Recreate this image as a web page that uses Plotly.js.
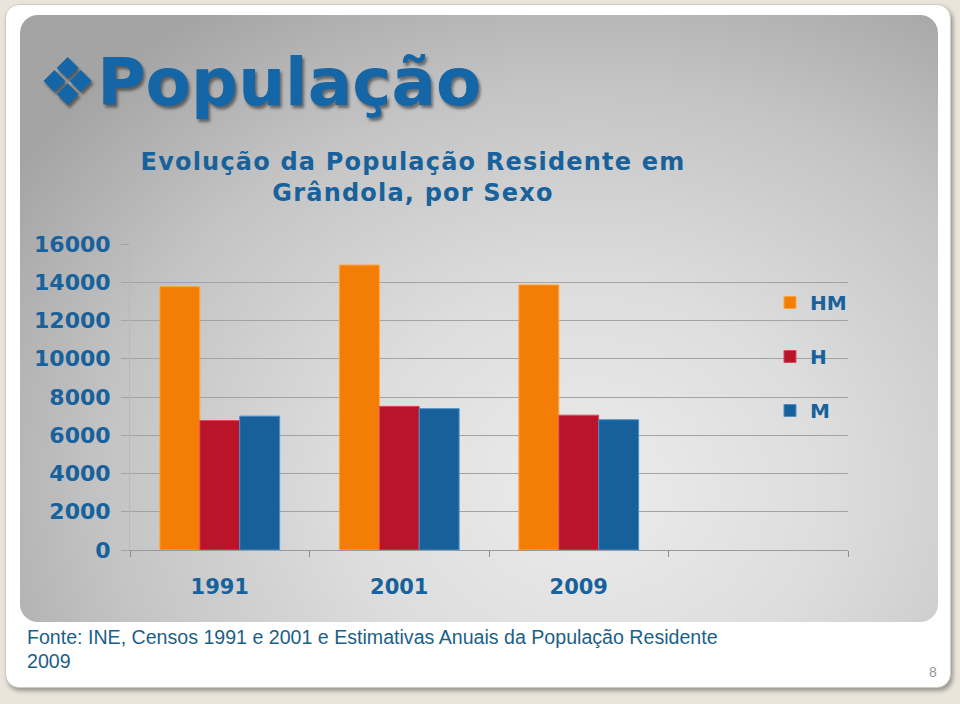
<!DOCTYPE html>
<html>
<head>
<meta charset="utf-8">
<script src="https://cdn.plot.ly/plotly-3.0.1.min.js"></script>
<style>
  html, body { margin:0; padding:0; width:960px; height:704px; overflow:hidden; background:#e9e5db; }
  #card { position:absolute; left:5px; top:4px; width:946px; height:684px; background:#ffffff;
          border-radius:14px; box-shadow: 2px 3px 4px rgba(0,0,0,0.35); border:1px solid #d0cdc4; box-sizing:border-box; }
  #panel { position:absolute; left:20px; top:15px; width:918px; height:607px; border-radius:18px;
           background: radial-gradient(ellipse 75% 95% at 62% 78%, #ececec 0%, #dddddd 35%, #c4c4c4 70%, #a4a4a4 100%); }
  #chart { position:absolute; left:0; top:0; width:960px; height:704px; }
  .gtitle { letter-spacing: 1.2px; }
</style>
</head>
<body>
<div id="card"></div>
<div id="panel"></div>
<div id="chart"></div>
<script>
// ---- data ----
const years = ["1991", "2001", "2009"];
const seriesNames = ["HM", "H", "M"];
const hmValues = [13770, 14900, 13860];
const hValues  = [6770, 7510, 7050];
const mValues  = [7000, 7390, 6810];
const yTicks = [0, 2000, 4000, 6000, 8000, 10000, 12000, 14000, 16000];

const mainTitle = "❖População";
const chartTitle = "Evolução da População Residente em<br>Grândola, por Sexo";
const sourceLine1 = "Fonte: INE, Censos 1991 e 2001 e Estimativas Anuais da População Residente";
const sourceLine2 = "2009";
const pageNumber = "8";

// ---- layout geometry ----
const W = 960, H = 704;
const M = { l: 130, r: 112, t: 244, b: 154 };
const pw = W - M.l - M.r, ph = H - M.t - M.b;
const px = x => (x - M.l) / pw;          // pixel -> paper x
const py = y => (H - M.b - y) / ph;      // pixel -> paper y

const blue = "#17629c";
const colors = ["#f47d06", "#b91429", "#17609a"];
const edge = ["#ffa53a", "#e04a5c", "#4a90c8"];

const values = [hmValues, hValues, mValues];
const traces = seriesNames.map((n, i) => ({
  type: "bar", name: n, x: years, y: values[i],
  legendgroup: n,
  marker: { color: colors[i], line: { color: edge[i], width: 1 } },
  hoverinfo: "x+y+name"
}));

const bold = { family: "DejaVu Sans, Verdana, sans-serif", weight: "bold", color: blue };

const layout = {
  width: W, height: H,
  margin: M,
  paper_bgcolor: "rgba(0,0,0,0)",
  plot_bgcolor: "rgba(0,0,0,0)",
  barmode: "group", bargap: 0.333, bargroupgap: 0,
  showlegend: true,
  legend: {
    x: px(770), xanchor: "left", y: py(283), yanchor: "top",
    bgcolor: "rgba(0,0,0,0)", borderwidth: 0,
    font: Object.assign({}, bold, { size: 20 }),
    tracegroupgap: 25, traceorder: "grouped"
  },
  title: {
    text: chartTitle,
    font: Object.assign({}, bold, { size: 24 }),
    x: px(413), xref: "paper", xanchor: "center",
    y: 1 - 170 / H, yref: "container", yanchor: "top"
  },
  xaxis: {
    type: "category", categoryorder: "array", categoryarray: years.concat([" "]),
    range: [-0.5, 3.5],
    tickson: "boundaries", ticks: "outside", ticklen: 6, tickcolor: "#8c8c8c", tickwidth: 1,
    showline: true, linecolor: "#9a9a9a", linewidth: 1,
    showgrid: false, zeroline: false,
    tickfont: Object.assign({}, bold, { size: 21 }),
    ticklabelstandoff: 18, fixedrange: true
  },
  yaxis: {
    range: [0, 16000], tickvals: yTicks, ticktext: yTicks.map(String),
    showgrid: true, gridcolor: "#a3a3a3", gridwidth: 1,
    ticks: "outside", ticklen: 8, tickcolor: "#a3a3a3",
    showline: true, linecolor: "#b8b8b8", linewidth: 1,
    zeroline: false,
    tickfont: Object.assign({}, bold, { size: 22 }),
    ticklabelstandoff: 6, fixedrange: true
  },
  annotations: [
    { text: mainTitle, xref: "paper", yref: "paper", x: px(36), y: py(82),
      xanchor: "left", yanchor: "middle", showarrow: false,
      font: { family: "DejaVu Sans, Verdana, sans-serif", weight: "bold", size: 66, color: "#1566a6",
              shadow: "2px 3px 3px rgba(0,0,0,0.45)" } },
    { text: sourceLine1, xref: "paper", yref: "paper", x: px(25), y: py(637),
      xanchor: "left", yanchor: "middle", showarrow: false,
      font: { family: "Liberation Sans, Arial, sans-serif", size: 19.6, color: "#1b5f88" } },
    { text: sourceLine2, xref: "paper", yref: "paper", x: px(25), y: py(661),
      xanchor: "left", yanchor: "middle", showarrow: false,
      font: { family: "Liberation Sans, Arial, sans-serif", size: 19.6, color: "#1b5f88" } },
    { text: pageNumber, xref: "paper", yref: "paper", x: px(933), y: py(672),
      xanchor: "center", yanchor: "middle", showarrow: false,
      font: { family: "Liberation Sans, Arial, sans-serif", size: 14, color: "#9a9a9a" } }
  ]
};

Plotly.newPlot("chart", traces, layout, { displayModeBar: false, staticPlot: false });
</script>
</body>
</html>
